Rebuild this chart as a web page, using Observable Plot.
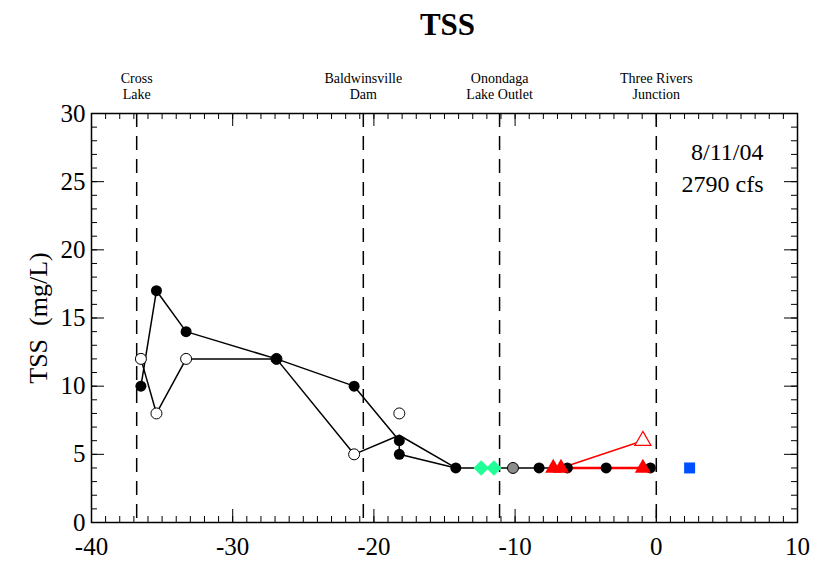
<!DOCTYPE html>
<html><head><meta charset="utf-8">
<script src="https://cdn.jsdelivr.net/npm/d3@7"></script>
<script src="https://cdn.jsdelivr.net/npm/@observablehq/plot@0.6"></script>
<style>body{margin:0;background:#fff}</style>
</head><body><div id="chart"></div>
<script>
// ---- data ----
const filledX = [-36.5, -35.4, -33.3, -26.9, -21.4, -18.2, -18.2, -14.2, -8.3, -6.3, -3.55, -0.42];
const filledY = [10, 17, 14, 12, 10, 6, 5, 4, 4, 4, 4, 4];
const openLineX = [-36.5, -35.4, -33.3, -26.9, -21.4, -18.2, -14.2];
const openLineY = [12, 8, 12, 12, 5, 6.4, 4];
const openPtX = [-36.5, -35.4, -33.3, -26.9, -21.4, -18.2];
const openPtY = [12, 8, 12, 12, 5, 8];
const greenX = [-12.4, -11.5];
const greenY = [4, 4];
const grayX = [-10.15];
const grayY = [4];
const redFillX = [-7.3, -6.75, -0.95];
const redFillY = [4, 4, 4];
const redLineX = [-6.75, -0.95];
const redLineY = [4, 4];
const redOpenLineX = [-6.75, -0.95];
const redOpenLineY = [4, 6];
const redOpenX = [-0.95];
const redOpenY = [6];
const blueX = [2.36];
const blueY = [4];
const siteX = [-36.8, -20.75, -11.1, 0];
const siteLine1 = ["Cross", "Baldwinsville", "Onondaga", "Three Rivers"];
const siteLine2 = ["Lake", "Dam", "Lake Outlet", "Junction"];
const xTicks = [-40, -30, -20, -10, 0, 10];
const yTicks = [0, 5, 10, 15, 20, 25, 30];
const noteLines = ["8/11/04", "2790 cfs"];
const titleText = "TSS";
const yLabelText = "TSS  (mg/L)";

// ---- build ----
const W = 818, H = 564, mL = 91, mR = 21, mT = 113, mB = 42;
const fw = W - mL - mR, fh = H - mT - mB;
const pts = (xs, ys) => xs.map((x, i) => ({x, y: ys[i]}));
const xMinor = d3.range(xTicks[0], xTicks[xTicks.length - 1] + 1, 1);
const yMinor = d3.range(yTicks[0], yTicks[yTicks.length - 1] + 1, 1);
const font = "'Liberation Serif', 'Times New Roman', serif";

const chart = Plot.plot({
  width: W, height: H,
  marginLeft: mL, marginRight: mR, marginTop: mT, marginBottom: mB,
  x: {domain: [xTicks[0], xTicks[xTicks.length - 1]]},
  y: {domain: [yTicks[0], yTicks[yTicks.length - 1]]},
  style: {fontFamily: font, background: "white", color: "black"},
  marks: [
    // dashed site lines
    Plot.ruleX(siteX, {stroke: "black", strokeWidth: 1.5, strokeDasharray: "14,9"}),
    // minor / major ticks (inward) on all four sides
    Plot.tickX(xMinor, {x: d => d, insetTop: fh - 6, stroke: "black"}),
    Plot.tickX(xMinor, {x: d => d, insetBottom: fh - 6, stroke: "black"}),
    Plot.tickX(xTicks, {x: d => d, insetTop: fh - 13, stroke: "black"}),
    Plot.tickX(xTicks, {x: d => d, insetBottom: fh - 13, stroke: "black"}),
    Plot.tickY(yMinor, {y: d => d, insetRight: fw - 6, stroke: "black"}),
    Plot.tickY(yMinor, {y: d => d, insetLeft: fw - 6, stroke: "black"}),
    Plot.tickY(yTicks, {y: d => d, insetRight: fw - 13, stroke: "black"}),
    Plot.tickY(yTicks, {y: d => d, insetLeft: fw - 13, stroke: "black"}),
    Plot.frame({stroke: "black", strokeWidth: 1.5}),
    Plot.axisX(xTicks, {anchor: "bottom", tickSize: 0, tickPadding: 15, fontSize: 25, fontFamily: font, label: null, tickFormat: d => String(d)}),
    Plot.axisY(yTicks, {anchor: "left", tickSize: 0, tickPadding: 6, fontSize: 25, fontFamily: font, label: null, tickFormat: d => String(d)}),
    // lines
    Plot.line(pts(openLineX, openLineY), {x: "x", y: "y", stroke: "black", strokeWidth: 1.5}),
    Plot.line(pts(filledX, filledY), {x: "x", y: "y", stroke: "black", strokeWidth: 1.5}),
    Plot.line(pts(redOpenLineX, redOpenLineY), {x: "x", y: "y", stroke: "red", strokeWidth: 1.5}),
    Plot.line(pts(redLineX, redLineY), {x: "x", y: "y", stroke: "red", strokeWidth: 2.5}),
    // markers
    Plot.dot(pts(openPtX, openPtY), {x: "x", y: "y", r: 5.5, fill: "white", stroke: "black", strokeWidth: 1}),
    Plot.dot(pts(filledX, filledY), {x: "x", y: "y", r: 5.5, fill: "black", stroke: "none"}),
    Plot.dot(pts(greenX, greenY), {x: "x", y: "y", r: 7, symbol: "diamond2", fill: "#22ff99", stroke: "none"}),
    Plot.dot(pts(grayX, grayY), {x: "x", y: "y", r: 5.5, fill: "#8c8c8c", stroke: "black", strokeWidth: 1}),
    Plot.dot(pts(redFillX, redFillY), {x: "x", y: "y", r: 6, symbol: "triangle", fill: "red", stroke: "none"}),
    Plot.dot(pts(redOpenX, redOpenY), {x: "x", y: "y", r: 6, symbol: "triangle", fill: "white", stroke: "red", strokeWidth: 1.2}),
    Plot.dot(pts(blueX, blueY), {x: "x", y: "y", r: 6.2, symbol: "square", fill: "#0050ff", stroke: "none"}),
    // site labels above the frame (two separate lines)
    Plot.text(siteLine1, {x: siteX, text: d => d, frameAnchor: "top", dy: -35, lineAnchor: "middle", textAnchor: "middle", fontSize: 14, fontFamily: font, fill: "black"}),
    Plot.text(siteLine2, {x: siteX, text: d => d, frameAnchor: "top", dy: -19, lineAnchor: "middle", textAnchor: "middle", fontSize: 14, fontFamily: font, fill: "black"}),
    // date / flow note
    Plot.text([noteLines[0]], {frameAnchor: "top-right", dx: -34, dy: 39, textAnchor: "end", lineAnchor: "middle", fontSize: 24, fontFamily: font, fill: "black"}),
    Plot.text([noteLines[1]], {frameAnchor: "top-right", dx: -34, dy: 71, textAnchor: "end", lineAnchor: "middle", fontSize: 24, fontFamily: font, fill: "black"}),
    // title
    Plot.text([titleText], {frameAnchor: "top", dx: 3, dy: -88, textAnchor: "middle", lineAnchor: "middle", fontSize: 31, fontWeight: "bold", fontFamily: font, fill: "black"}),
    // y label
    Plot.text([yLabelText], {frameAnchor: "left", dx: -53, rotate: -90, textAnchor: "middle", lineAnchor: "middle", fontSize: 26, fontFamily: font, fill: "black"})
  ]
});
document.getElementById("chart").appendChild(chart);
</script>
</body></html>
